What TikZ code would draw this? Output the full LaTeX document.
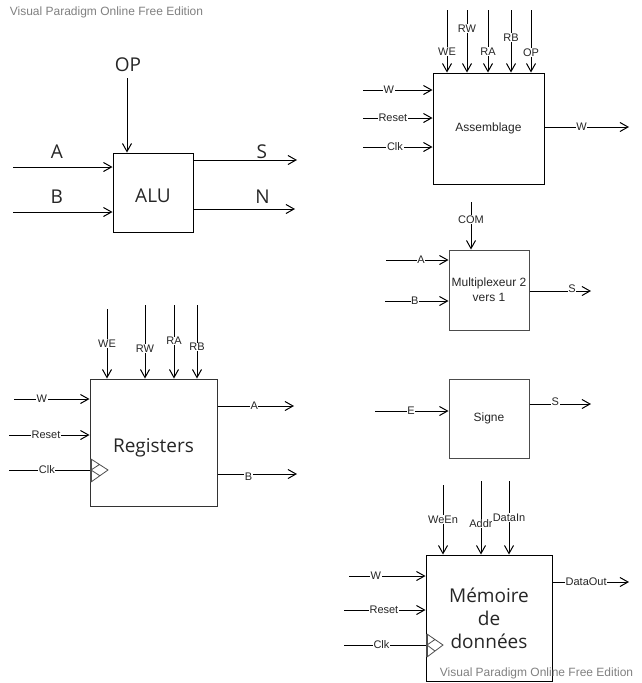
\documentclass[tikz,border=0pt]{standalone}
\usepackage{fontspec}
\setmainfont{Liberation Sans}
\newfontfamily\bigfont{Open Sans}
\usetikzlibrary{positioning,arrows.meta}

\tikzset{
  blk/.style={draw=black,line width=1pt,inner sep=0pt,text=black!85,align=center,font=\fontsize{12}{15}\selectfont},
  lbl/.style={fill=white,inner sep=0.6pt,text=black!85,font=\fontsize{11}{12}\selectfont},
  biglbl/.style={text=black!85,font=\bigfont\fontsize{19}{23}\selectfont},
  lowtext/.style={text height=19.5pt,text depth=0pt},
  wm/.style={text=black!50,font=\fontsize{12}{14}\selectfont},
}

\begin{document}
\begin{tikzpicture}[x=1pt,y=-1pt,>={Straight Barb[length=8pt,width=9pt]},line width=1pt]
\useasboundingbox (0,0) rectangle (642,683);

\node[wm,anchor=west] (wmtop) at (6,12) {Visual Paradigm Online Free Edition};

% ALU
\node[blk,minimum width=80pt,minimum height=79pt,biglbl,lowtext] (alu) at (153,192.5) {ALU};
\coordinate (aluop) at (127,78);
\coordinate (alua) at (13,167);
\coordinate (alub) at (13,212);
\coordinate (alus) at (297,160);
\coordinate (alun) at (295,209);
\node[biglbl] (aluopl) at (128,65) {OP};
\draw[->] (aluop) -- (aluop |- alu.north);
\draw[->] (alua) -- (alua -| alu.west) node[biglbl,pos=.44,yshift=15pt] (alual) {A};
\draw[->] (alub) -- (alub -| alu.west) node[biglbl,pos=.44,yshift=15.5pt] (alubl) {B};
\draw[->] (alus -| alu.east) -- (alus) node[biglbl,pos=.66,yshift=8pt] (alusl) {S};
\draw[->] (alun -| alu.east) -- (alun) node[biglbl,pos=.68,yshift=12pt] (alunl) {N};

% Assemblage
\node[blk,minimum width=111pt,minimum height=111pt] (asm) at (488.5,128.5) {Assemblage};
\coordinate (asmwe) at (447,10);
\coordinate (asmrw) at (467,10);
\coordinate (asmra) at (488,10);
\coordinate (asmrb) at (511,10);
\coordinate (asmop) at (531,10);
\coordinate (asmw) at (363,90);
\coordinate (asmreset) at (363,118);
\coordinate (asmclk) at (363,147);
\coordinate (asmout) at (629,127);
\draw[->] (asmwe) -- (asmwe |- asm.north) node[lbl,pos=.67] (asmwel) {WE};
\draw[->] (asmrw) -- (asmrw |- asm.north) node[lbl,pos=.30] (asmrwl) {RW};
\draw[->] (asmra) -- (asmra |- asm.north) node[lbl,pos=.67] (asmral) {RA};
\draw[->] (asmrb) -- (asmrb |- asm.north) node[lbl,pos=.44] (asmrbl) {RB};
\draw[->] (asmop) -- (asmop |- asm.north) node[lbl,pos=.68] (asmopl) {OP};
\draw[->] (asmw) -- (asmw -| asm.west) node[lbl,pos=.37] (asmwl) {W};
\draw[->] (asmreset) -- (asmreset -| asm.west) node[lbl,pos=.43] (asmresetl) {Reset};
\draw[->] (asmclk) -- (asmclk -| asm.west) node[lbl,pos=.46] (asmclkl) {Clk};
\draw[->] (asmout -| asm.east) -- (asmout) node[lbl,pos=.44] (asmoutl) {W};

% Multiplexeur
\node[blk,draw=black!70,minimum width=80pt,minimum height=80pt] (mux) at (489,290) {Multiplexeur 2\\vers 1};
\coordinate (muxcom) at (471,202);
\coordinate (muxa) at (386,260);
\coordinate (muxb) at (385,301);
\coordinate (muxs) at (591,291);
\draw[->] (muxcom) -- (muxcom |- mux.north) node[lbl,pos=.375] (muxcoml) {COM};
\draw[->] (muxa) -- (muxa -| mux.west) node[lbl,pos=.56] (muxal) {A};
\draw[->] (muxb) -- (muxb -| mux.west) node[lbl,pos=.47] (muxbl) {B};
\draw[->] (muxs -| mux.east) -- (muxs) node[lbl,pos=.69,yshift=2pt] (muxsl) {S};

% Registers
\node[blk,draw=black!80,minimum width=127pt,minimum height=127pt,biglbl,lowtext] (regs) at (153.5,442.5) {Registers};
\coordinate (regwe) at (107,309);
\coordinate (regrw) at (145,305);
\coordinate (regra) at (174,305);
\coordinate (regrb) at (197,305);
\coordinate (regw) at (14,399);
\coordinate (regreset) at (9,435);
\coordinate (regclk) at (9,470);
\coordinate (rega) at (294,406);
\coordinate (regb) at (297,474);
\draw[->] (regwe) -- (regwe |- regs.north) node[lbl,pos=.50] (regwel) {WE};
\draw[->] (regrw) -- (regrw |- regs.north) node[lbl,pos=.59] (regrwl) {RW};
\draw[->] (regra) -- (regra |- regs.north) node[lbl,pos=.49] (regral) {RA};
\draw[->] (regrb) -- (regrb |- regs.north) node[lbl,pos=.57] (regrbl) {RB};
\draw[->] (regw) -- (regw -| regs.west) node[lbl,pos=.37] (regwl) {W};
\draw[->] (regreset) -- (regreset -| regs.west) node[lbl,pos=.46] (regresetl) {Reset};
\draw (regclk) -- (regclk -| regs.west) node[lbl,pos=.47] (regclkl) {Clk};
\draw[->] (rega -| regs.east) -- (rega) node[lbl,pos=.48] (regal) {A};
\draw[->] (regb -| regs.east) -- (regb) node[lbl,pos=.39,yshift=-3pt] (regbl) {B};
\draw[black!70,line width=.8pt] (91,459) -- (108,470) -- (91,482) (91,470) -- (99.5,464.5) (91,470) -- (99.5,475.5);
\draw[black!70,line width=2pt] (91,459) -- (91,482);

% Signe
\node[blk,draw=black!70,minimum width=80pt,minimum height=79pt] (sig) at (489,418.5) {Signe};
\coordinate (sige) at (375,411);
\coordinate (sigs) at (591,404);
\draw[->] (sige) -- (sige -| sig.west) node[lbl,pos=.49] (sigel) {E};
\draw[->] (sigs -| sig.east) -- (sigs) node[lbl,pos=.42,yshift=2pt] (sigsl) {S};

% Memoire
\node[blk,minimum width=126pt,minimum height=126pt,biglbl] (mem) at (489,618) {Mémoire\\de\\données};
\coordinate (memween) at (443,485);
\coordinate (memaddr) at (481,481);
\coordinate (memdin) at (509,481);
\coordinate (memw) at (349,576);
\coordinate (memreset) at (344,610);
\coordinate (memclk) at (344,645);
\coordinate (memdout) at (629,582);
\draw[->] (memween) -- (memween |- mem.north) node[lbl,pos=.50] (memweenl) {WeEn};
\draw[->] (memaddr) -- (memaddr |- mem.north) node[lbl,pos=.58] (memaddrl) {Addr};
\draw[->] (memdin) -- (memdin |- mem.north) node[lbl,pos=.50] (memdinl) {DataIn};
\draw[->] (memw) -- (memw -| mem.west) node[lbl,pos=.35] (memwl) {W};
\draw[->] (memreset) -- (memreset -| mem.west) node[lbl,pos=.49] (memresetl) {Reset};
\draw (memclk) -- (memclk -| mem.west) node[lbl,pos=.46] (memclkl) {Clk};
\draw[->] (memdout -| mem.east) -- (memdout) node[lbl,pos=.44] (memdoutl) {DataOut};
\draw[black!70,line width=.8pt] (427,634) -- (443,645) -- (427,657) (427,645) -- (435,639.5) (427,645) -- (435,651);
\draw[black!70,line width=2pt] (427,634) -- (427,657);

\node[wm,anchor=east] (wmbot) at (637,673) {Visual Paradigm Online Free Edition};
\end{tikzpicture}
\end{document}
